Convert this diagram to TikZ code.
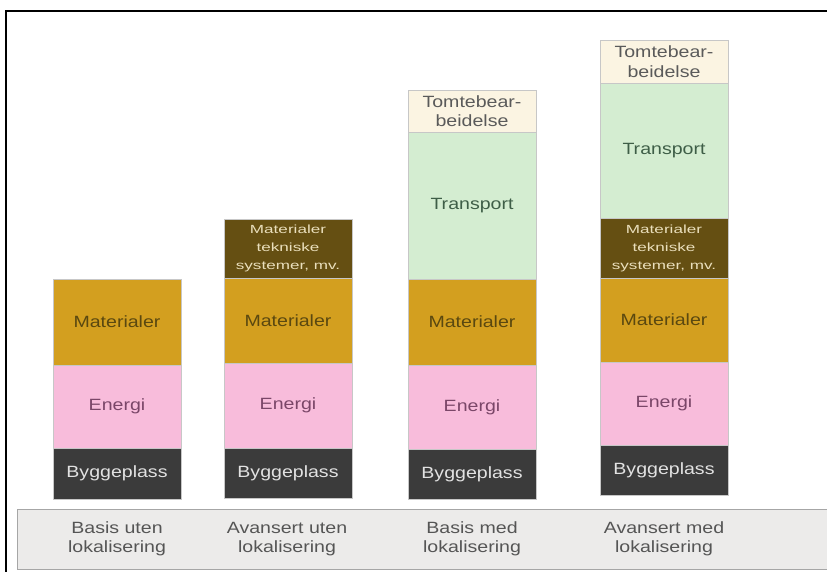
\documentclass[tikz,border=0pt]{standalone}
\usepackage{fontspec}
\setmainfont{Liberation Sans}[FakeStretch=1.2]
\newfontfamily\smallfont{Liberation Sans}[FakeStretch=1.45]
\definecolor{cBygg}{HTML}{3B3B3B}
\definecolor{cByggT}{HTML}{E2E2E2}
\definecolor{cEn}{HTML}{F8BCDB}
\definecolor{cEnT}{HTML}{7A4668}
\definecolor{cMat}{HTML}{D39F1F}
\definecolor{cMatT}{HTML}{5A4810}
\definecolor{cMT}{HTML}{654F12}
\definecolor{cMTT}{HTML}{EADFBC}
\definecolor{cTr}{HTML}{D4EDD1}
\definecolor{cTrT}{HTML}{3E5E47}
\definecolor{cTo}{HTML}{FBF4E2}
\definecolor{cToT}{HTML}{5A5A5A}
\definecolor{cBand}{HTML}{ECEBEA}
\definecolor{cLab}{HTML}{555555}
\begin{document}
\begin{tikzpicture}[x=1pt,y=-1pt,
  blk/.style={draw=black!22, line width=0.6pt, inner sep=0pt, outer sep=0pt,
    anchor=north west, align=center, minimum width=128pt,
    font=\fontsize{16.3}{19.5}\selectfont},
  bygg/.style={blk, fill=cBygg, text=cByggT},
  energi/.style={blk, fill=cEn, text=cEnT},
  mat/.style={blk, fill=cMat, text=cMatT},
  mattek/.style={blk, fill=cMT, text=cMTT, font=\smallfont\fontsize{11.8}{18}\selectfont},
  transp/.style={blk, fill=cTr, text=cTrT},
  tomte/.style={blk, fill=cTo, text=cToT},
  lab/.style={align=center, text=cLab, inner sep=0pt, font=\fontsize{16.3}{19.5}\selectfont}]
\useasboundingbox (0,0) rectangle (827,571);
\fill[white] (0,0) rectangle (827,571);
% frame
\draw[line width=2pt] (6,572) -- (6,11) -- (828,11);
% bottom band
\node[draw=black!35, fill=cBand, line width=0.8pt, inner sep=0pt, outer sep=0pt,
  anchor=north west, minimum width=830pt, minimum height=60pt] (band) at (17,509) {};
% column 1
\node[mat, minimum height=86pt] (c1mat) at (53,279) {Materialer};
\node[energi, minimum height=83pt] (c1en) at (53,365) {Energi};
\node[bygg, minimum height=51pt] (c1by) at (53,448) {Byggeplass};
% column 2
\node[mattek, minimum height=59pt] (c2mt) at (224,219) {Materialer\\tekniske\\systemer, mv.};
\node[mat, minimum height=85pt] (c2mat) at (224,278) {Materialer};
\node[energi, minimum height=85pt] (c2en) at (224,363) {Energi};
\node[bygg, minimum height=50pt] (c2by) at (224,448) {Byggeplass};
% column 3
\node[tomte, minimum height=42pt] (c3to) at (408,90) {Tomtebear-\\beidelse};
\node[transp, minimum height=147pt] (c3tr) at (408,132) {Transport};
\node[mat, minimum height=86pt] (c3mat) at (408,279) {Materialer};
\node[energi, minimum height=84pt] (c3en) at (408,365) {Energi};
\node[bygg, minimum height=50pt] (c3by) at (408,449) {Byggeplass};
% column 4
\node[tomte, minimum height=43pt] (c4to) at (600,40) {Tomtebear-\\beidelse};
\node[transp, minimum height=135pt] (c4tr) at (600,83) {Transport};
\node[mattek, minimum height=60pt] (c4mt) at (600,218) {Materialer\\tekniske\\systemer, mv.};
\node[mat, minimum height=84pt] (c4mat) at (600,278) {Materialer};
\node[energi, minimum height=83pt] (c4en) at (600,362) {Energi};
\node[bygg, minimum height=50pt] (c4by) at (600,445) {Byggeplass};
% labels
\node[lab] (l1) at (117,539) {Basis uten\\lokalisering};
\node[lab] (l2) at (287,539) {Avansert uten\\lokalisering};
\node[lab] (l3) at (472,539) {Basis med\\lokalisering};
\node[lab] (l4) at (664,539) {Avansert med\\lokalisering};
\end{tikzpicture}
\end{document}
